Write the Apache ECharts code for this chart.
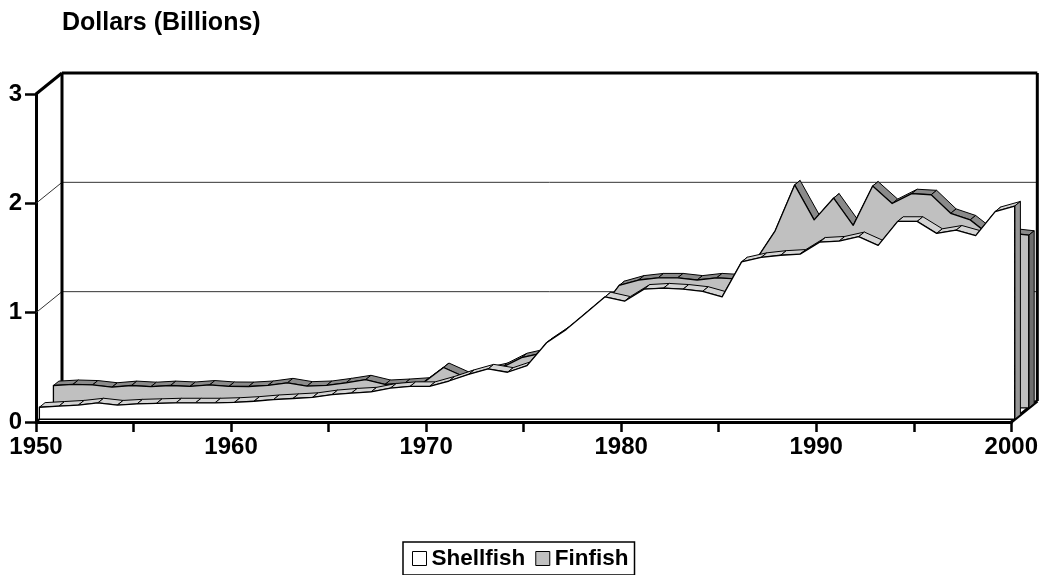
<!DOCTYPE html>
<html>
<head>
<meta charset="utf-8">
<script src="https://cdn.jsdelivr.net/npm/echarts@6/dist/echarts.min.js"></script>
<style>
html,body{margin:0;padding:0;background:#fff;}
#chart{width:1041px;height:575px;}
</style>
</head>
<body>
<div id="chart"></div>
<script>
// ---- data ----
const years = ['1950','1951','1952','1953','1954','1955','1956','1957','1958','1959',
  '1960','1961','1962','1963','1964','1965','1966','1967','1968','1969',
  '1970','1971','1972','1973','1974','1975','1976','1977','1978','1979',
  '1980','1981','1982','1983','1984','1985','1986','1987','1988','1989',
  '1990','1991','1992','1993','1994','1995','1996','1997','1998','1999','2000'];
const shellfish = [0.11,0.12,0.13,0.15,0.13,0.14,0.145,0.15,0.15,0.15,
  0.155,0.165,0.18,0.19,0.20,0.225,0.24,0.25,0.285,0.30,
  0.30,0.35,0.41,0.46,0.43,0.49,0.70,0.82,0.97,1.12,
  1.08,1.19,1.20,1.19,1.17,1.12,1.44,1.48,1.50,1.51,
  1.62,1.63,1.67,1.59,1.81,1.81,1.70,1.73,1.68,1.90,1.95];
const finfish = [0.205,0.215,0.21,0.19,0.205,0.195,0.205,0.197,0.21,0.197,
  0.196,0.206,0.23,0.20,0.206,0.23,0.258,0.215,0.224,0.236,
  0.37,0.29,0.33,0.37,0.46,0.50,0.55,0.70,0.88,1.12,
  1.17,1.19,1.19,1.17,1.19,1.18,1.35,1.62,2.04,1.72,
  1.92,1.67,2.03,1.87,1.96,1.95,1.78,1.72,1.58,1.60,1.58];
const yTicks = [0, 1, 2, 3];
const seriesNames = ['Shellfish', 'Finfish'];

// ---- 3D look ----
const DEPTH = [26, -21];
const FONT = '"Liberation Sans", Arial, sans-serif';

function shift(p, f) { return [p[0] + DEPTH[0] * f, p[1] + DEPTH[1] * f]; }

function frameRenderer(params, api) {
  const n = years.length;
  const P = (i, v, f) => shift(api.coord([i, v]), f);
  const ln = (a, b, w, c) => ({ type: 'line', shape: { x1: a[0], y1: a[1], x2: b[0], y2: b[1] },
    style: { stroke: c || '#000', lineWidth: w } });
  const top = yTicks[yTicks.length - 1];
  const ch = [];
  yTicks.slice(1, -1).forEach(v => {
    ch.push(ln(P(0, v, 0), P(0, v, 1), 1, '#333'));
    ch.push(ln(P(0, v, 1), P(n - 1, v, 1), 1, '#333'));
  });
  ch.push(ln(P(0, 0, 1), P(n - 1, 0, 1), 1, '#333'));
  ch.push(ln(P(0, 0, 0), P(0, 0, 1), 2));
  ch.push(ln(P(0, 0, 1), P(0, top, 1), 3));
  ch.push(ln(P(0, top, 1), P(n - 1, top, 1), 3));
  ch.push(ln(P(n - 1, 0, 1), P(n - 1, top, 1), 3));
  ch.push(ln(P(0, top, 0), P(0, top, 1), 3));
  ch.push(ln(P(n - 1, 0, 0), P(n - 1, 0, 1), 3));
  return { type: 'group', children: ch };
}

function areaRenderer(values, f0, f1, faceColor, topColor, capColor) {
  return function (params, api) {
    const n = values.length;
    const front = values.map((v, i) => shift(api.coord([i, v]), f0));
    const back = values.map((v, i) => shift(api.coord([i, v]), f1));
    const ch = [];
    for (let i = 0; i < n - 1; i++) {
      ch.push({ type: 'polygon', shape: { points: [front[i], front[i + 1], back[i + 1], back[i]] },
        style: { fill: topColor, stroke: '#000', lineWidth: 1, lineJoin: 'round' } });
    }
    const endF = shift(api.coord([n - 1, 0]), f0);
    const endB = shift(api.coord([n - 1, 0]), f1);
    ch.push({ type: 'polygon', shape: { points: [endF, front[n - 1], back[n - 1], endB] },
      style: { fill: capColor, stroke: '#000', lineWidth: 1 } });
    const startF = shift(api.coord([0, 0]), f0);
    ch.push({ type: 'polygon', shape: { points: [startF].concat(front, [endF]) },
      style: { fill: faceColor, stroke: '#000', lineWidth: 1.3, lineJoin: 'round' } });
    return { type: 'group', children: ch };
  };
}

const chart = echarts.init(document.getElementById('chart'), null, { renderer: 'canvas' });
chart.setOption({
  animation: false,
  backgroundColor: '#fff',
  title: {
    text: 'Dollars (Billions)',
    left: 62, top: 11, padding: 0,
    textStyle: { fontFamily: FONT, fontWeight: 'bold', fontSize: 25, color: '#000' }
  },
  legend: {
    left: 403, top: 542,
    padding: [5, 6, 5, 9],
    borderColor: '#000', borderWidth: 1.5,
    itemWidth: 14, itemHeight: 14, itemGap: 10,
    icon: 'rect',
    textStyle: { fontFamily: FONT, fontWeight: 'bold', fontSize: 22.5, color: '#000' },
    data: [
      { name: 'Shellfish', itemStyle: { color: '#fff', borderColor: '#000', borderWidth: 1 } },
      { name: 'Finfish', itemStyle: { color: '#c0c0c0', borderColor: '#000', borderWidth: 1 } }
    ]
  },
  grid: { left: 36, right: 27, top: 94, bottom: 153 },
  xAxis: {
    type: 'category',
    data: years,
    boundaryGap: false,
    axisLine: { show: true, lineStyle: { color: '#000', width: 3 } },
    axisTick: { show: true, interval: 4, length: 10, lineStyle: { color: '#000', width: 2.5 } },
    axisLabel: { interval: 9, margin: 13, fontFamily: FONT, fontWeight: 'bold', fontSize: 24, color: '#000' },
    splitLine: { show: false }
  },
  yAxis: {
    type: 'value',
    min: 0, max: 3, interval: 1,
    axisLine: { show: true, lineStyle: { color: '#000', width: 3 } },
    axisTick: { show: true, length: 11, lineStyle: { color: '#000', width: 2.5 } },
    axisLabel: { margin: 14, fontFamily: FONT, fontWeight: 'bold', fontSize: 24, color: '#000' },
    splitLine: { show: false }
  },
  series: [
    { type: 'custom', name: 'frame', data: [[0, 0]], clip: false, silent: true, renderItem: frameRenderer },
    { type: 'custom', name: 'Finfish', data: [[0, 0]], clip: false, silent: true,
      itemStyle: { color: '#c0c0c0', borderColor: '#000' },
      renderItem: areaRenderer(finfish, 0.67, 0.88, '#c0c0c0', '#8a8a8a', '#6e6e6e') },
    { type: 'custom', name: 'Shellfish', data: [[0, 0]], clip: false, silent: true,
      itemStyle: { color: '#ffffff', borderColor: '#000' },
      renderItem: areaRenderer(shellfish, 0.13, 0.35, '#ffffff', '#d4d4d4', '#959595') }
  ]
});
</script>
</body>
</html>
